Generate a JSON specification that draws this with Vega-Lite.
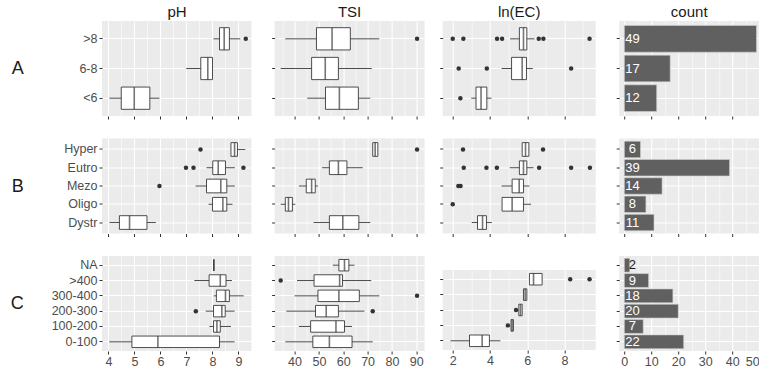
{
"$schema": "https://vega.github.io/schema/vega-lite/v6.json",
"padding": {"left": 10, "top": 5, "right": 0, "bottom": 0},
"background": "white",
"config": {
  "font": "Liberation Sans",
  "view": {"fill": "#EBEBEB", "stroke": null},
  "axis": {"domain": false, "tickColor": "#333333", "tickSize": 3, "tickWidth": 1, "gridColor": "#FFFFFF", "labelColor": "#4D4D4D", "labelFont": "Liberation Sans", "labelFontSize": 12.5, "titleFont": "Liberation Sans", "labelOverlap": false},
  "title": {"font": "Liberation Sans", "fontSize": 15, "fontWeight": "normal", "color": "#1A1A1A", "offset": 1}
},
"datasets": {
  "box": [
    {"g":"A","v":"pH","c":">8","lo":8.04,"q1":8.27,"md":8.45,"q3":8.65,"hi":9.07},
    {"g":"A","v":"pH","c":"6-8","lo":6.99,"q1":7.55,"md":7.82,"q3":8.0,"hi":8.0},
    {"g":"A","v":"pH","c":"<6","lo":4.04,"q1":4.49,"md":4.99,"q3":5.59,"hi":5.96},
    {"g":"A","v":"TSI","c":">8","lo":36.2,"q1":49.0,"md":55.4,"q3":62.9,"hi":74.8},
    {"g":"A","v":"TSI","c":"6-8","lo":34.3,"q1":47.0,"md":52.6,"q3":58.0,"hi":71.7},
    {"g":"A","v":"TSI","c":"<6","lo":45.2,"q1":52.7,"md":58.4,"q3":66.2,"hi":71.1},
    {"g":"A","v":"EC","c":">8","lo":5.08,"q1":5.58,"md":5.8,"q3":5.98,"hi":6.39},
    {"g":"A","v":"EC","c":"6-8","lo":4.62,"q1":5.16,"md":5.73,"q3":5.96,"hi":6.3},
    {"g":"A","v":"EC","c":"<6","lo":2.99,"q1":3.25,"md":3.52,"q3":3.83,"hi":4.08},
    {"g":"B","v":"pH","c":"Hyper","lo":8.71,"q1":8.71,"md":8.85,"q3":8.96,"hi":9.26},
    {"g":"B","v":"pH","c":"Eutro","lo":7.77,"q1":8.01,"md":8.22,"q3":8.5,"hi":8.86},
    {"g":"B","v":"pH","c":"Mezo","lo":7.35,"q1":7.77,"md":8.32,"q3":8.55,"hi":8.86},
    {"g":"B","v":"pH","c":"Oligo","lo":7.85,"q1":8.0,"md":8.4,"q3":8.55,"hi":8.77},
    {"g":"B","v":"pH","c":"Dystr","lo":4.04,"q1":4.42,"md":4.81,"q3":5.48,"hi":5.82},
    {"g":"B","v":"TSI","c":"Hyper","lo":72.1,"q1":72.1,"md":73.1,"q3":74.2,"hi":74.2},
    {"g":"B","v":"TSI","c":"Eutro","lo":51.3,"q1":54.3,"md":58.0,"q3":61.5,"hi":68.0},
    {"g":"B","v":"TSI","c":"Mezo","lo":41.8,"q1":44.8,"md":47.0,"q3":48.5,"hi":49.6},
    {"g":"B","v":"TSI","c":"Oligo","lo":34.3,"q1":36.2,"md":37.5,"q3":39.1,"hi":40.3},
    {"g":"B","v":"TSI","c":"Dystr","lo":47.8,"q1":54.3,"md":59.8,"q3":66.4,"hi":71.1},
    {"g":"B","v":"EC","c":"Hyper","lo":5.73,"q1":5.73,"md":5.91,"q3":6.09,"hi":6.09},
    {"g":"B","v":"EC","c":"Eutro","lo":5.06,"q1":5.58,"md":5.8,"q3":5.98,"hi":6.34},
    {"g":"B","v":"EC","c":"Mezo","lo":4.62,"q1":5.19,"md":5.57,"q3":5.8,"hi":6.12},
    {"g":"B","v":"EC","c":"Oligo","lo":4.65,"q1":4.65,"md":5.19,"q3":5.8,"hi":6.21},
    {"g":"B","v":"EC","c":"Dystr","lo":3.02,"q1":3.33,"md":3.6,"q3":3.81,"hi":4.1},
    {"g":"C","v":"pH","c":"NA","lo":8.05,"q1":8.05,"md":8.05,"q3":8.05,"hi":8.05},
    {"g":"C","v":"pH","c":">400","lo":7.3,"q1":7.87,"md":8.3,"q3":8.52,"hi":8.75},
    {"g":"C","v":"pH","c":"300-400","lo":8.05,"q1":8.15,"md":8.5,"q3":8.65,"hi":9.2},
    {"g":"C","v":"pH","c":"200-300","lo":7.74,"q1":8.04,"md":8.36,"q3":8.49,"hi":8.85},
    {"g":"C","v":"pH","c":"100-200","lo":7.88,"q1":8.04,"md":8.17,"q3":8.3,"hi":8.71},
    {"g":"C","v":"pH","c":"0-100","lo":4.03,"q1":4.9,"md":5.9,"q3":8.27,"hi":8.85},
    {"g":"C","v":"TSI","c":"NA","lo":55.7,"q1":58.2,"md":60.5,"q3":62.3,"hi":64.6},
    {"g":"C","v":"TSI","c":">400","lo":41.0,"q1":48.0,"md":58.5,"q3":59.7,"hi":71.5},
    {"g":"C","v":"TSI","c":"300-400","lo":40.0,"q1":49.6,"md":58.2,"q3":66.6,"hi":74.8},
    {"g":"C","v":"TSI","c":"200-300","lo":36.6,"q1":48.6,"md":53.0,"q3":58.0,"hi":68.7},
    {"g":"C","v":"TSI","c":"100-200","lo":41.8,"q1":46.6,"md":57.0,"q3":60.5,"hi":63.6},
    {"g":"C","v":"TSI","c":"0-100","lo":36.2,"q1":47.5,"md":54.3,"q3":63.6,"hi":72.1},
    {"g":"C","v":"EC","c":">400","lo":6.12,"q1":6.12,"md":6.34,"q3":6.8,"hi":6.8},
    {"g":"C","v":"EC","c":"300-400","lo":5.8,"q1":5.8,"md":5.89,"q3":5.98,"hi":5.98},
    {"g":"C","v":"EC","c":"200-300","lo":5.55,"q1":5.55,"md":5.64,"q3":5.73,"hi":5.73},
    {"g":"C","v":"EC","c":"100-200","lo":5.13,"q1":5.13,"md":5.19,"q3":5.26,"hi":5.26},
    {"g":"C","v":"EC","c":"0-100","lo":1.88,"q1":2.9,"md":3.58,"q3":3.97,"hi":4.56}
  ],
  "out": [
    {"g":"A","v":"pH","c":">8","x":9.28},
    {"g":"A","v":"TSI","c":">8","x":90.3},
    {"g":"A","v":"EC","c":">8","x":2.0},{"g":"A","v":"EC","c":">8","x":2.57},{"g":"A","v":"EC","c":">8","x":4.38},{"g":"A","v":"EC","c":">8","x":4.65},{"g":"A","v":"EC","c":">8","x":6.62},{"g":"A","v":"EC","c":">8","x":6.87},{"g":"A","v":"EC","c":">8","x":9.35},
    {"g":"A","v":"EC","c":"6-8","x":2.32},{"g":"A","v":"EC","c":"6-8","x":3.83},{"g":"A","v":"EC","c":"6-8","x":8.36},
    {"g":"A","v":"EC","c":"<6","x":2.41},
    {"g":"B","v":"pH","c":"Hyper","x":7.54},{"g":"B","v":"pH","c":"Eutro","x":6.98},{"g":"B","v":"pH","c":"Eutro","x":7.27},{"g":"B","v":"pH","c":"Eutro","x":9.19},{"g":"B","v":"pH","c":"Mezo","x":5.96},
    {"g":"B","v":"TSI","c":"Hyper","x":90.3},
    {"g":"B","v":"EC","c":"Hyper","x":2.55},{"g":"B","v":"EC","c":"Hyper","x":6.85},
    {"g":"B","v":"EC","c":"Eutro","x":2.59},{"g":"B","v":"EC","c":"Eutro","x":3.81},{"g":"B","v":"EC","c":"Eutro","x":4.37},{"g":"B","v":"EC","c":"Eutro","x":6.64},{"g":"B","v":"EC","c":"Eutro","x":8.36},{"g":"B","v":"EC","c":"Eutro","x":9.37},
    {"g":"B","v":"EC","c":"Mezo","x":2.3},{"g":"B","v":"EC","c":"Mezo","x":2.42},
    {"g":"B","v":"EC","c":"Oligo","x":2.0},
    {"g":"C","v":"pH","c":"200-300","x":7.36},
    {"g":"C","v":"TSI","c":">400","x":34.3},{"g":"C","v":"TSI","c":"300-400","x":90.3},{"g":"C","v":"TSI","c":"200-300","x":72.1},
    {"g":"C","v":"EC","c":">400","x":8.31},{"g":"C","v":"EC","c":">400","x":9.35},{"g":"C","v":"EC","c":"200-300","x":5.4},{"g":"C","v":"EC","c":"100-200","x":4.96}
  ],
  "cnt": [
    {"g":"A","c":">8","n":49},{"g":"A","c":"6-8","n":17},{"g":"A","c":"<6","n":12},
    {"g":"B","c":"Hyper","n":6},{"g":"B","c":"Eutro","n":39},{"g":"B","c":"Mezo","n":14},{"g":"B","c":"Oligo","n":8},{"g":"B","c":"Dystr","n":11},
    {"g":"C","c":"NA","n":2},{"g":"C","c":">400","n":9},{"g":"C","c":"300-400","n":18},{"g":"C","c":"200-300","n":20},{"g":"C","c":"100-200","n":7},{"g":"C","c":"0-100","n":22}
  ]
},
"vconcat": [
  {"hconcat": [
    {"hconcat": [
      {"width":150,"height":95,"title":{"text":"pH"},"data":{"name":"box"},
       "encoding":{"y":{"field":"c","type":"nominal","scale":{"domain":[">8","6-8","<6"],"paddingInner":0,"paddingOuter":0.1},"axis":{"title":"A","titleAngle":0,"titleAlign":"right","titleBaseline":"middle","titleFontSize":18,"titleFontWeight":"normal","titleColor":"#1A1A1A","titlePadding":28.7,"minExtent":50,"maxExtent":50,"labelPadding":2,"labelFontSize":12.5,"grid":true,"bandPosition":0.5,"gridWidth":1.1}}},
       "layer":[
        {"transform":[{"filter":"datum.g==='A' && datum.v==='pH'"}],"mark":{"type":"rule","color":"#3A3A3A","strokeWidth":0.9},
         "encoding":{"x":{"field":"lo","type":"quantitative","scale":{"domain":[3.75,9.52],"nice":false,"zero":false},"axis":{"title":null,"labels":false,"tickCount":40,"values":[4,4.5,5,5.5,6,6.5,7,7.5,8,8.5,9,9.5],"gridWidth":{"condition":{"test":"datum.value % 1 !== 0","value":0.55},"value":1.1},"tickOpacity":{"condition":{"test":"datum.value % 1 !== 0","value":0},"value":1}}},"x2":{"field":"hi"}}},
        {"transform":[{"filter":"datum.g==='A' && datum.v==='pH'"}],"mark":{"type":"bar","fill":"#FFFFFF","stroke":"#3A3A3A","strokeWidth":0.9,"height":{"band":0.75}},
         "encoding":{"x":{"field":"q1","type":"quantitative","title":null},"x2":{"field":"q3"}}},
        {"transform":[{"filter":"datum.g==='A' && datum.v==='pH'"}],"mark":{"type":"tick","color":"#3A3A3A","thickness":1.6,"size":22.3},
         "encoding":{"x":{"field":"md","type":"quantitative","title":null}}},
        {"data":{"name":"out"},"transform":[{"filter":"datum.g==='A' && datum.v==='pH'"}],"mark":{"type":"circle","color":"#333333","size":20,"opacity":1},
         "encoding":{"x":{"field":"x","type":"quantitative","title":null}}}
       ]},
      {"width":150,"height":95,"title":{"text":"TSI"},"data":{"name":"box"},
       "encoding":{"y":{"field":"c","type":"nominal","scale":{"domain":[">8","6-8","<6"],"paddingInner":0,"paddingOuter":0.1},"axis":{"title":null,"labels":false,"grid":true,"bandPosition":0.5,"gridWidth":1.1}}},
       "layer":[
        {"transform":[{"filter":"datum.g==='A' && datum.v==='TSI'"}],"mark":{"type":"rule","color":"#3A3A3A","strokeWidth":0.9},
         "encoding":{"x":{"field":"lo","type":"quantitative","scale":{"domain":[31.8,93.4],"nice":false,"zero":false},"axis":{"title":null,"labels":false,"tickCount":40,"values":[35,40,45,50,55,60,65,70,75,80,85,90],"gridWidth":{"condition":{"test":"datum.value % 10 !== 0","value":0.55},"value":1.1},"tickOpacity":{"condition":{"test":"datum.value % 10 !== 0","value":0},"value":1}}},"x2":{"field":"hi"}}},
        {"transform":[{"filter":"datum.g==='A' && datum.v==='TSI'"}],"mark":{"type":"bar","fill":"#FFFFFF","stroke":"#3A3A3A","strokeWidth":0.9,"height":{"band":0.75}},
         "encoding":{"x":{"field":"q1","type":"quantitative","title":null},"x2":{"field":"q3"}}},
        {"transform":[{"filter":"datum.g==='A' && datum.v==='TSI'"}],"mark":{"type":"tick","color":"#3A3A3A","thickness":1.6,"size":22.3},
         "encoding":{"x":{"field":"md","type":"quantitative","title":null}}},
        {"data":{"name":"out"},"transform":[{"filter":"datum.g==='A' && datum.v==='TSI'"}],"mark":{"type":"circle","color":"#333333","size":20,"opacity":1},
         "encoding":{"x":{"field":"x","type":"quantitative","title":null}}}
       ]}
    ], "spacing": 18.6},
    {"hconcat": [
      {"width":153,"height":95,"title":{"text":"ln(EC)"},"data":{"name":"box"},
       "encoding":{"y":{"field":"c","type":"nominal","scale":{"domain":[">8","6-8","<6"],"paddingInner":0,"paddingOuter":0.1},"axis":{"title":null,"labels":false,"grid":true,"bandPosition":0.5,"gridWidth":1.1}}},
       "layer":[
        {"transform":[{"filter":"datum.g==='A' && datum.v==='EC'"}],"mark":{"type":"rule","color":"#3A3A3A","strokeWidth":0.9},
         "encoding":{"x":{"field":"lo","type":"quantitative","scale":{"domain":[1.46,9.68],"nice":false,"zero":false},"axis":{"title":null,"labels":false,"tickCount":40,"values":[2,3,4,5,6,7,8,9],"gridWidth":{"condition":{"test":"datum.value % 2 !== 0","value":0.55},"value":1.1},"tickOpacity":{"condition":{"test":"datum.value % 2 !== 0","value":0},"value":1}}},"x2":{"field":"hi"}}},
        {"transform":[{"filter":"datum.g==='A' && datum.v==='EC'"}],"mark":{"type":"bar","fill":"#FFFFFF","stroke":"#3A3A3A","strokeWidth":0.9,"height":{"band":0.75}},
         "encoding":{"x":{"field":"q1","type":"quantitative","title":null},"x2":{"field":"q3"}}},
        {"transform":[{"filter":"datum.g==='A' && datum.v==='EC'"}],"mark":{"type":"tick","color":"#3A3A3A","thickness":1.6,"size":22.3},
         "encoding":{"x":{"field":"md","type":"quantitative","title":null}}},
        {"data":{"name":"out"},"transform":[{"filter":"datum.g==='A' && datum.v==='EC'"}],"mark":{"type":"circle","color":"#333333","size":20,"opacity":1},
         "encoding":{"x":{"field":"x","type":"quantitative","title":null}}}
       ]},
      {"width":140,"height":95,"title":{"text":"count"},"data":{"name":"cnt"},"transform":[{"filter":"datum.g==='A'"}],
       "encoding":{"y":{"field":"c","type":"nominal","scale":{"domain":[">8","6-8","<6"],"paddingInner":0,"paddingOuter":0.1},"axis":{"title":null,"labels":false,"grid":true,"bandPosition":0.5,"gridWidth":1.1}}},
       "layer":[
        {"mark":{"type":"bar","fill":"#606060","stroke":"#D0D0D0","strokeWidth":0.6,"height":{"band":0.9}},
         "encoding":{"x":{"field":"n","type":"quantitative","scale":{"domain":[-1.9,50.0],"nice":false,"zero":false},"axis":{"title":null,"labels":false,"tickCount":40,"values":[0,5,10,15,20,25,30,35,40,45,50],"gridWidth":{"condition":{"test":"datum.value % 10 !== 0","value":0.55},"value":1.1},"tickOpacity":{"condition":{"test":"datum.value % 10 !== 0","value":0},"value":1}}},"x2":{"datum":0}}},
        {"mark":{"type":"text","align":"center","baseline":"middle","fontSize":13},
         "encoding":{"x":{"datum":3},"text":{"field":"n","type":"quantitative"},"color":{"condition":{"test":"datum.n < 3","value":"#1A1A1A"},"value":"#FFFFFF"}}}
       ]}
    ], "spacing": 19.5}
  ], "spacing": 13.7},
  {"hconcat": [
    {"hconcat": [
      {"width":150,"height":95,"data":{"name":"box"},
       "encoding":{"y":{"field":"c","type":"nominal","scale":{"domain":["Hyper","Eutro","Mezo","Oligo","Dystr"],"paddingInner":0,"paddingOuter":0.1},"axis":{"title":"B","titleAngle":0,"titleAlign":"right","titleBaseline":"middle","titleFontSize":18,"titleFontWeight":"normal","titleColor":"#1A1A1A","titlePadding":28.7,"minExtent":50,"maxExtent":50,"labelPadding":2,"labelFontSize":12.5,"grid":true,"bandPosition":0.5,"gridWidth":1.1}}},
       "layer":[
        {"transform":[{"filter":"datum.g==='B' && datum.v==='pH'"}],"mark":{"type":"rule","color":"#3A3A3A","strokeWidth":0.9},
         "encoding":{"x":{"field":"lo","type":"quantitative","scale":{"domain":[3.75,9.52],"nice":false,"zero":false},"axis":{"title":null,"labels":false,"tickCount":40,"values":[4,4.5,5,5.5,6,6.5,7,7.5,8,8.5,9,9.5],"gridWidth":{"condition":{"test":"datum.value % 1 !== 0","value":0.55},"value":1.1},"tickOpacity":{"condition":{"test":"datum.value % 1 !== 0","value":0},"value":1}}},"x2":{"field":"hi"}}},
        {"transform":[{"filter":"datum.g==='B' && datum.v==='pH'"}],"mark":{"type":"bar","fill":"#FFFFFF","stroke":"#3A3A3A","strokeWidth":0.9,"height":{"band":0.75}},
         "encoding":{"x":{"field":"q1","type":"quantitative","title":null},"x2":{"field":"q3"}}},
        {"transform":[{"filter":"datum.g==='B' && datum.v==='pH'"}],"mark":{"type":"tick","color":"#3A3A3A","thickness":1.6,"size":13.7},
         "encoding":{"x":{"field":"md","type":"quantitative","title":null}}},
        {"data":{"name":"out"},"transform":[{"filter":"datum.g==='B' && datum.v==='pH'"}],"mark":{"type":"circle","color":"#333333","size":20,"opacity":1},
         "encoding":{"x":{"field":"x","type":"quantitative","title":null}}}
       ]},
      {"width":150,"height":95,"data":{"name":"box"},
       "encoding":{"y":{"field":"c","type":"nominal","scale":{"domain":["Hyper","Eutro","Mezo","Oligo","Dystr"],"paddingInner":0,"paddingOuter":0.1},"axis":{"title":null,"labels":false,"grid":true,"bandPosition":0.5,"gridWidth":1.1}}},
       "layer":[
        {"transform":[{"filter":"datum.g==='B' && datum.v==='TSI'"}],"mark":{"type":"rule","color":"#3A3A3A","strokeWidth":0.9},
         "encoding":{"x":{"field":"lo","type":"quantitative","scale":{"domain":[31.8,93.4],"nice":false,"zero":false},"axis":{"title":null,"labels":false,"tickCount":40,"values":[35,40,45,50,55,60,65,70,75,80,85,90],"gridWidth":{"condition":{"test":"datum.value % 10 !== 0","value":0.55},"value":1.1},"tickOpacity":{"condition":{"test":"datum.value % 10 !== 0","value":0},"value":1}}},"x2":{"field":"hi"}}},
        {"transform":[{"filter":"datum.g==='B' && datum.v==='TSI'"}],"mark":{"type":"bar","fill":"#FFFFFF","stroke":"#3A3A3A","strokeWidth":0.9,"height":{"band":0.75}},
         "encoding":{"x":{"field":"q1","type":"quantitative","title":null},"x2":{"field":"q3"}}},
        {"transform":[{"filter":"datum.g==='B' && datum.v==='TSI'"}],"mark":{"type":"tick","color":"#3A3A3A","thickness":1.6,"size":13.7},
         "encoding":{"x":{"field":"md","type":"quantitative","title":null}}},
        {"data":{"name":"out"},"transform":[{"filter":"datum.g==='B' && datum.v==='TSI'"}],"mark":{"type":"circle","color":"#333333","size":20,"opacity":1},
         "encoding":{"x":{"field":"x","type":"quantitative","title":null}}}
       ]}
    ], "spacing": 18.6},
    {"hconcat": [
      {"width":153,"height":95,"data":{"name":"box"},
       "encoding":{"y":{"field":"c","type":"nominal","scale":{"domain":["Hyper","Eutro","Mezo","Oligo","Dystr"],"paddingInner":0,"paddingOuter":0.1},"axis":{"title":null,"labels":false,"grid":true,"bandPosition":0.5,"gridWidth":1.1}}},
       "layer":[
        {"transform":[{"filter":"datum.g==='B' && datum.v==='EC'"}],"mark":{"type":"rule","color":"#3A3A3A","strokeWidth":0.9},
         "encoding":{"x":{"field":"lo","type":"quantitative","scale":{"domain":[1.46,9.68],"nice":false,"zero":false},"axis":{"title":null,"labels":false,"tickCount":40,"values":[2,3,4,5,6,7,8,9],"gridWidth":{"condition":{"test":"datum.value % 2 !== 0","value":0.55},"value":1.1},"tickOpacity":{"condition":{"test":"datum.value % 2 !== 0","value":0},"value":1}}},"x2":{"field":"hi"}}},
        {"transform":[{"filter":"datum.g==='B' && datum.v==='EC'"}],"mark":{"type":"bar","fill":"#FFFFFF","stroke":"#3A3A3A","strokeWidth":0.9,"height":{"band":0.75}},
         "encoding":{"x":{"field":"q1","type":"quantitative","title":null},"x2":{"field":"q3"}}},
        {"transform":[{"filter":"datum.g==='B' && datum.v==='EC'"}],"mark":{"type":"tick","color":"#3A3A3A","thickness":1.6,"size":13.7},
         "encoding":{"x":{"field":"md","type":"quantitative","title":null}}},
        {"data":{"name":"out"},"transform":[{"filter":"datum.g==='B' && datum.v==='EC'"}],"mark":{"type":"circle","color":"#333333","size":20,"opacity":1},
         "encoding":{"x":{"field":"x","type":"quantitative","title":null}}}
       ]},
      {"width":140,"height":95,"data":{"name":"cnt"},"transform":[{"filter":"datum.g==='B'"}],
       "encoding":{"y":{"field":"c","type":"nominal","scale":{"domain":["Hyper","Eutro","Mezo","Oligo","Dystr"],"paddingInner":0,"paddingOuter":0.1},"axis":{"title":null,"labels":false,"grid":true,"bandPosition":0.5,"gridWidth":1.1}}},
       "layer":[
        {"mark":{"type":"bar","fill":"#606060","stroke":"#D0D0D0","strokeWidth":0.6,"height":{"band":0.9}},
         "encoding":{"x":{"field":"n","type":"quantitative","scale":{"domain":[-1.9,50.0],"nice":false,"zero":false},"axis":{"title":null,"labels":false,"tickCount":40,"values":[0,5,10,15,20,25,30,35,40,45,50],"gridWidth":{"condition":{"test":"datum.value % 10 !== 0","value":0.55},"value":1.1},"tickOpacity":{"condition":{"test":"datum.value % 10 !== 0","value":0},"value":1}}},"x2":{"datum":0}}},
        {"mark":{"type":"text","align":"center","baseline":"middle","fontSize":13},
         "encoding":{"x":{"datum":3},"text":{"field":"n","type":"quantitative"},"color":{"condition":{"test":"datum.n < 3","value":"#1A1A1A"},"value":"#FFFFFF"}}}
       ]}
    ], "spacing": 19.5}
  ], "spacing": 13.7},
  {"hconcat": [
    {"hconcat": [
      {"width":150,"height":95,"data":{"name":"box"},
       "encoding":{"y":{"field":"c","type":"nominal","scale":{"domain":["NA",">400","300-400","200-300","100-200","0-100"],"paddingInner":0,"paddingOuter":0.1},"axis":{"title":"C","titleAngle":0,"titleAlign":"right","titleBaseline":"middle","titleFontSize":18,"titleFontWeight":"normal","titleColor":"#1A1A1A","titlePadding":28.7,"minExtent":50,"maxExtent":50,"labelPadding":2,"labelFontSize":12.5,"grid":true,"bandPosition":0.5,"gridWidth":1.1}}},
       "layer":[
        {"transform":[{"filter":"datum.g==='C' && datum.v==='pH'"}],"mark":{"type":"rule","color":"#3A3A3A","strokeWidth":0.9},
         "encoding":{"x":{"field":"lo","type":"quantitative","scale":{"domain":[3.75,9.52],"nice":false,"zero":false},"axis":{"title":null,"labelPadding":1,"tickCount":40,"values":[4,4.5,5,5.5,6,6.5,7,7.5,8,8.5,9,9.5],"labelExpr":"datum.value % 1 !== 0 ? '' : format(datum.value, 'd')","gridWidth":{"condition":{"test":"datum.value % 1 !== 0","value":0.55},"value":1.1},"tickOpacity":{"condition":{"test":"datum.value % 1 !== 0","value":0},"value":1}}},"x2":{"field":"hi"}}},
        {"transform":[{"filter":"datum.g==='C' && datum.v==='pH'"}],"mark":{"type":"bar","fill":"#FFFFFF","stroke":"#3A3A3A","strokeWidth":0.9,"height":{"band":0.75}},
         "encoding":{"x":{"field":"q1","type":"quantitative","title":null},"x2":{"field":"q3"}}},
        {"transform":[{"filter":"datum.g==='C' && datum.v==='pH'"}],"mark":{"type":"tick","color":"#3A3A3A","thickness":1.6,"size":11.5},
         "encoding":{"x":{"field":"md","type":"quantitative","title":null}}},
        {"data":{"name":"out"},"transform":[{"filter":"datum.g==='C' && datum.v==='pH'"}],"mark":{"type":"circle","color":"#333333","size":20,"opacity":1},
         "encoding":{"x":{"field":"x","type":"quantitative","title":null}}}
       ]},
      {"width":150,"height":95,"data":{"name":"box"},
       "encoding":{"y":{"field":"c","type":"nominal","scale":{"domain":["NA",">400","300-400","200-300","100-200","0-100"],"paddingInner":0,"paddingOuter":0.1},"axis":{"title":null,"labels":false,"grid":true,"bandPosition":0.5,"gridWidth":1.1}}},
       "layer":[
        {"transform":[{"filter":"datum.g==='C' && datum.v==='TSI'"}],"mark":{"type":"rule","color":"#3A3A3A","strokeWidth":0.9},
         "encoding":{"x":{"field":"lo","type":"quantitative","scale":{"domain":[31.8,93.4],"nice":false,"zero":false},"axis":{"title":null,"labelPadding":1,"tickCount":40,"values":[35,40,45,50,55,60,65,70,75,80,85,90],"labelExpr":"datum.value % 10 !== 0 ? '' : format(datum.value, 'd')","gridWidth":{"condition":{"test":"datum.value % 10 !== 0","value":0.55},"value":1.1},"tickOpacity":{"condition":{"test":"datum.value % 10 !== 0","value":0},"value":1}}},"x2":{"field":"hi"}}},
        {"transform":[{"filter":"datum.g==='C' && datum.v==='TSI'"}],"mark":{"type":"bar","fill":"#FFFFFF","stroke":"#3A3A3A","strokeWidth":0.9,"height":{"band":0.75}},
         "encoding":{"x":{"field":"q1","type":"quantitative","title":null},"x2":{"field":"q3"}}},
        {"transform":[{"filter":"datum.g==='C' && datum.v==='TSI'"}],"mark":{"type":"tick","color":"#3A3A3A","thickness":1.6,"size":11.5},
         "encoding":{"x":{"field":"md","type":"quantitative","title":null}}},
        {"data":{"name":"out"},"transform":[{"filter":"datum.g==='C' && datum.v==='TSI'"}],"mark":{"type":"circle","color":"#333333","size":20,"opacity":1},
         "encoding":{"x":{"field":"x","type":"quantitative","title":null}}}
       ]}
    ], "spacing": 18.6},
    {"hconcat": [
      {"vconcat": [
        {"width":153,"height":14,"data":{"values":[{"s":""}]},"view":{"fill":"transparent","stroke":null},
         "mark":{"type":"text","opacity":0},"encoding":{"text":{"field":"s","type":"nominal"}}},
        {"width":153,"height":80,"data":{"name":"box"},
         "encoding":{"y":{"field":"c","type":"nominal","scale":{"domain":[">400","300-400","200-300","100-200","0-100"],"paddingInner":0,"paddingOuter":0.1},"axis":{"title":null,"labels":false,"grid":true,"bandPosition":0.5,"gridWidth":1.1}}},
         "layer":[
          {"transform":[{"filter":"datum.g==='C' && datum.v==='EC'"}],"mark":{"type":"rule","color":"#3A3A3A","strokeWidth":0.9},
           "encoding":{"x":{"field":"lo","type":"quantitative","scale":{"domain":[1.46,9.68],"nice":false,"zero":false},"axis":{"title":null,"labelPadding":1,"tickCount":40,"values":[2,3,4,5,6,7,8,9],"labelExpr":"datum.value % 2 !== 0 ? '' : format(datum.value, 'd')","gridWidth":{"condition":{"test":"datum.value % 2 !== 0","value":0.55},"value":1.1},"tickOpacity":{"condition":{"test":"datum.value % 2 !== 0","value":0},"value":1}}},"x2":{"field":"hi"}}},
          {"transform":[{"filter":"datum.g==='C' && datum.v==='EC'"}],"mark":{"type":"bar","fill":"#FFFFFF","stroke":"#3A3A3A","strokeWidth":0.9,"height":{"band":0.75}},
           "encoding":{"x":{"field":"q1","type":"quantitative","title":null},"x2":{"field":"q3"}}},
          {"transform":[{"filter":"datum.g==='C' && datum.v==='EC'"}],"mark":{"type":"tick","color":"#3A3A3A","thickness":1.6,"size":11.5},
           "encoding":{"x":{"field":"md","type":"quantitative","title":null}}},
          {"data":{"name":"out"},"transform":[{"filter":"datum.g==='C' && datum.v==='EC'"}],"mark":{"type":"circle","color":"#333333","size":20,"opacity":1},
           "encoding":{"x":{"field":"x","type":"quantitative","title":null}}}
         ]}
      ], "spacing": 0},
      {"width":140,"height":95,"data":{"name":"cnt"},"transform":[{"filter":"datum.g==='C'"}],
       "encoding":{"y":{"field":"c","type":"nominal","scale":{"domain":["NA",">400","300-400","200-300","100-200","0-100"],"paddingInner":0,"paddingOuter":0.1},"axis":{"title":null,"labels":false,"grid":true,"bandPosition":0.5,"gridWidth":1.1}}},
       "layer":[
        {"mark":{"type":"bar","fill":"#606060","stroke":"#D0D0D0","strokeWidth":0.6,"height":{"band":0.9}},
         "encoding":{"x":{"field":"n","type":"quantitative","scale":{"domain":[-1.9,50.0],"nice":false,"zero":false},"axis":{"title":null,"labelPadding":1,"labelFlush":3,"tickCount":40,"values":[0,5,10,15,20,25,30,35,40,45,50],"labelExpr":"datum.value % 10 !== 0 ? '' : format(datum.value, 'd')","gridWidth":{"condition":{"test":"datum.value % 10 !== 0","value":0.55},"value":1.1},"tickOpacity":{"condition":{"test":"datum.value % 10 !== 0","value":0},"value":1}}},"x2":{"datum":0}}},
        {"mark":{"type":"text","align":"center","baseline":"middle","fontSize":13},
         "encoding":{"x":{"datum":3},"text":{"field":"n","type":"quantitative"},"color":{"condition":{"test":"datum.n < 3","value":"#1A1A1A"},"value":"#FFFFFF"}}}
       ]}
    ], "spacing": 19.5}
  ], "spacing": 13.7}
],
"spacing": 18.5
}
